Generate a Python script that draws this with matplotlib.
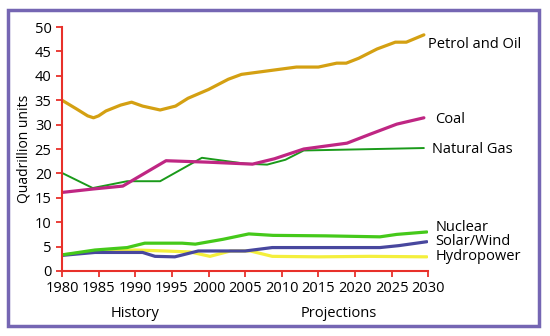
import matplotlib.pyplot as plt
from matplotlib.patches import Rectangle

plt.rcParams['font.family'] = ['Open Sans', 'DejaVu Sans']

petrol_years = [1980, 1982, 1983.5, 1984.3, 1985, 1986, 1988, 1989.5, 1991, 1993.4, 1995.5, 1997.2,
                2000, 2002.7, 2004.5, 2007, 2012, 2015, 2017.5, 2018.8, 2020.5, 2023, 2025.5, 2027, 2029.4]
petrol_vals = [35, 33.2, 31.8, 31.4, 31.8, 32.8, 34.0, 34.6, 33.8, 33.0, 33.8, 35.4,
               37.2, 39.3, 40.3, 40.8, 41.8, 41.8, 42.6, 42.6, 43.6, 45.5, 46.9, 46.9, 48.4]

coal_years = [1980, 1984.2, 1988.3, 1994.2, 2000, 2006, 2009, 2013, 2018.9, 2022, 2025.7, 2029.4]
coal_vals = [16.1, 16.8, 17.4, 22.6, 22.3, 21.9, 23.0, 25.0, 26.2, 28.0, 30.1, 31.4]

gas_years = [1980, 1984.2, 1988.9, 1993.4, 1999.1, 2005, 2008, 2010.5, 2013, 2029.4]
gas_vals = [20.1, 17.0, 18.4, 18.4, 23.2, 22.0, 21.8, 22.8, 24.7, 25.2]

nuclear_years = [1980, 1984.5, 1988.9, 1991.3, 1996.4, 1998.2, 2002, 2005.5, 2008.8, 2016, 2023.4, 2025.7, 2029.8]
nuclear_vals = [3.3, 4.3, 4.8, 5.7, 5.7, 5.5, 6.5, 7.6, 7.3, 7.2, 7.0, 7.5, 8.0]

solar_years = [1980, 1984.5, 1991, 1992.7, 1995.4, 1998.6, 2005, 2008.7, 2015, 2023.4, 2026, 2029.8]
solar_vals = [3.2, 3.8, 3.8, 3.0, 2.9, 4.1, 4.1, 4.8, 4.8, 4.8, 5.2, 6.0]

hydro_years = [1980, 1984.5, 1990, 1994, 1997.5, 2000.2, 2003, 2005.7, 2008.7, 2015, 2022, 2029.8]
hydro_vals = [3.3, 4.0, 4.3, 4.1, 3.9, 3.0, 4.1, 4.1, 3.0, 2.9, 3.0, 2.9]

series_labels = ['Petrol and Oil', 'Coal', 'Natural Gas', 'Nuclear', 'Solar/Wind', 'Hydropower']
label_y = [46.5, 31.0, 25.0, 9.0, 6.0, 2.9]
label_x = [2030, 2031, 2030.5, 2031, 2031, 2031]

fig = plt.figure(figsize=(5.5, 3.36), dpi=100)
fig.patches.append(Rectangle((0.015, 0.03), 0.965, 0.94, transform=fig.transFigure,
                             fill=False, edgecolor='#7566b3', linewidth=2.5))
ax = fig.add_axes([0.1127, 0.1935, 0.666, 0.726])

kw = dict(solid_capstyle='round', solid_joinstyle='round')
ax.plot(hydro_years, hydro_vals, color='#f4ef3c', lw=2.3, **kw)
ax.plot(solar_years, solar_vals, color='#48479e', lw=2.3, **kw)
ax.plot(nuclear_years, nuclear_vals, color='#45c91a', lw=2.3, **kw)
ax.plot(gas_years, gas_vals, color='#1a9a1a', lw=1.4, **kw)
ax.plot(coal_years, coal_vals, color='#bf2683', lw=2.3, **kw)
ax.plot(petrol_years, petrol_vals, color='#d4a012', lw=2.3, **kw)

for lab, lx, ly in zip(series_labels, label_x, label_y):
    ax.text(lx, ly, lab, fontsize=10.5, va='center', ha='left', clip_on=False)

ax.set_xlim(1980, 2030)
ax.set_ylim(0, 50)
ax.set_xticks(range(1980, 2031, 5))
ax.set_yticks(range(0, 51, 5))
for s in ['top', 'right']:
    ax.spines[s].set_visible(False)
for s in ['left', 'bottom']:
    ax.spines[s].set_color('#e8302a')
    ax.spines[s].set_linewidth(1.5)
ax.tick_params(colors='#e8302a', labelcolor='black', length=4, width=1.3, labelsize=10.5)
ax.set_ylabel('Quadrillion units', fontsize=10, labelpad=2)

fig.text(0.245, 0.068, 'History', fontsize=10.5, ha='center', va='center')
fig.text(0.615, 0.068, 'Projections', fontsize=10.5, ha='center', va='center')

fig.savefig('out.png', dpi=100)
